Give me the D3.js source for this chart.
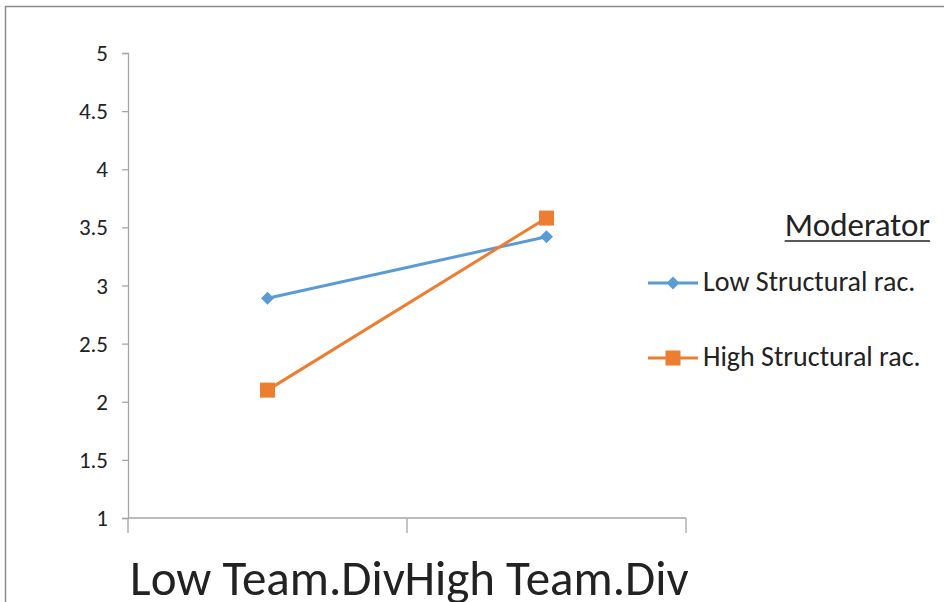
<!DOCTYPE html>
<html>
<head>
<meta charset="utf-8">
<script src="https://cdn.jsdelivr.net/npm/d3@7"></script>
<style>
  body { margin: 0; background: #fff; }
  svg text { font-family: Carlito, Calibri, "Open Sans", sans-serif; fill: #222; }
</style>
</head>
<body>
<div id="chart"></div>
<script>
// categories on the x axis
var categories = ['Low Team.Div', 'High Team.Div'];
// series names and values
var seriesNames = ['Low Structural rac.', 'High Structural rac.'];
var lowStructural = [2.89, 3.42];
var highStructural = [2.10, 3.58];
var yTicks = [1, 1.5, 2, 2.5, 3, 3.5, 4, 4.5, 5];
var legendTitle = 'Moderator';

var width = 944, height = 602;
var plot = {left: 128, right: 686, top: 53, bottom: 518};

var svg = d3.select('#chart').append('svg')
  .attr('width', width)
  .attr('height', height);

// outer chart frame, runs off the right and bottom edge
svg.append('rect')
  .attr('x', 5.5).attr('y', 6.5)
  .attr('width', 960).attr('height', 620)
  .attr('fill', 'none')
  .attr('stroke', '#8c8c8c')
  .attr('stroke-width', 1.5);

var x = d3.scaleBand()
  .domain(categories)
  .range([plot.left, plot.right])
  .padding(0);

var y = d3.scaleLinear()
  .domain([1, 5])
  .range([plot.bottom, plot.top]);

// y axis (labels drawn separately so the size sticks)
var yAxis = svg.append('g')
  .attr('transform', 'translate(' + plot.left + ',0)')
  .call(d3.axisLeft(y).tickValues(yTicks).tickSize(6).tickFormat(''));
yAxis.select('.domain').attr('stroke', '#a6a6a6').attr('stroke-width', 1.3);
yAxis.selectAll('.tick line').attr('stroke', '#a6a6a6').attr('stroke-width', 1.3);

svg.append('g').selectAll('text')
  .data(yTicks)
  .enter().append('text')
  .attr('x', 108)
  .attr('y', function (d) { return y(d) + 8; })
  .attr('text-anchor', 'end')
  .attr('font-size', 23)
  .text(function (d) { return d; });

// x axis: baseline plus ticks at category boundaries
var xg = svg.append('g');
xg.append('line')
  .attr('x1', plot.left).attr('x2', plot.right)
  .attr('y1', plot.bottom).attr('y2', plot.bottom)
  .attr('stroke', '#a6a6a6').attr('stroke-width', 1.3);
var bounds = categories.map(function (c) { return x(c); }).concat([x(categories[categories.length - 1]) + x.bandwidth()]);
xg.selectAll('line.tk')
  .data(bounds)
  .enter().append('line')
  .attr('class', 'tk')
  .attr('x1', function (d) { return d; }).attr('x2', function (d) { return d; })
  .attr('y1', plot.bottom).attr('y2', plot.bottom + 15)
  .attr('stroke', '#a6a6a6').attr('stroke-width', 1.3);
xg.selectAll('text')
  .data(categories)
  .enter().append('text')
  .attr('x', function (d) { return x(d) + x.bandwidth() / 2; })
  .attr('y', 595)
  .attr('text-anchor', 'middle')
  .style('font-size', '49px')
  .text(function (d) { return d; });

var series = [
  {name: seriesNames[0], values: lowStructural, color: '#5b9bd5', shape: 'diamond'},
  {name: seriesNames[1], values: highStructural, color: '#ed7d31', shape: 'square'}
];

var line = d3.line()
  .x(function (d, i) { return x(categories[i]) + x.bandwidth() / 2; })
  .y(function (d) { return y(d); });

function marker(g, shape, color) {
  if (shape === 'diamond') {
    g.append('path')
      .attr('d', 'M0,-6.5 L6.5,0 L0,6.5 L-6.5,0 Z')
      .attr('fill', color);
  } else {
    g.append('rect')
      .attr('x', -7.5).attr('y', -7.5)
      .attr('width', 15).attr('height', 15)
      .attr('fill', color);
  }
}

series.forEach(function (s) {
  svg.append('path')
    .datum(s.values)
    .attr('d', line)
    .attr('fill', 'none')
    .attr('stroke', s.color)
    .attr('stroke-width', 3);
  s.values.forEach(function (v, i) {
    var g = svg.append('g')
      .attr('transform', 'translate(' + (x(categories[i]) + x.bandwidth() / 2) + ',' + y(v) + ')');
    marker(g, s.shape, s.color);
  });
});

// legend
var legend = svg.append('g');
var title = legend.append('text')
  .attr('x', 930).attr('y', 236)
  .attr('text-anchor', 'end')
  .style('font-size', '33px')
  .text(legendTitle);
var tb = title.node().getBBox();
legend.append('line')
  .attr('x1', tb.x).attr('x2', tb.x + tb.width)
  .attr('y1', 241).attr('y2', 241)
  .attr('stroke', '#222').attr('stroke-width', 1.5);

series.forEach(function (s, i) {
  var ly = 283 + i * 75;
  legend.append('line')
    .attr('x1', 648).attr('x2', 698)
    .attr('y1', ly).attr('y2', ly)
    .attr('stroke', s.color).attr('stroke-width', 3);
  var g = legend.append('g').attr('transform', 'translate(673,' + ly + ')');
  marker(g, s.shape, s.color);
  legend.append('text')
    .attr('x', 703).attr('y', ly + 8)
    .style('font-size', '28px')
    .text(s.name);
});
</script>
</body>
</html>
